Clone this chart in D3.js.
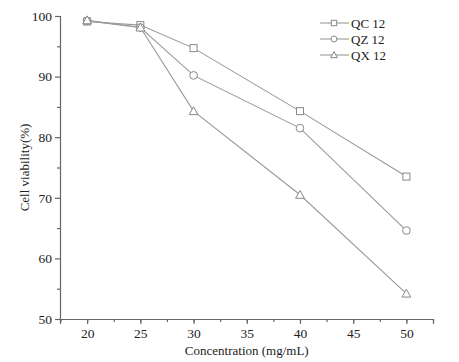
<!DOCTYPE html>
<html>
<head>
<meta charset="utf-8">
<script src="https://cdn.jsdelivr.net/npm/d3@7"></script>
<style>
  body { margin: 0; background: #fff; }
  svg text { font-family: "Liberation Serif", "DejaVu Serif", serif; fill: #222; }
</style>
</head>
<body>
<svg id="chart"></svg>
<script>
// concentrations (mg/mL) and viability (%) for each sample
const concentrations = [20, 25, 30, 40, 50];
const qc12 = [99.1, 98.5, 94.7, 84.3, 73.5];
const qz12 = [99.2, 98.1, 90.2, 81.5, 64.6];
const qx12 = [99.3, 98.1, 84.3, 70.5, 54.2];
const seriesNames = ["QC 12", "QZ 12", "QX 12"];
const markerTypes = ["square", "circle", "triangle"];
const xTicks = [20, 25, 30, 35, 40, 45, 50];
const yTicks = [50, 60, 70, 80, 90, 100];

const width = 459, height = 362;
const margin = {top: 16, right: 26, bottom: 43, left: 60};
const innerW = width - margin.left - margin.right;
const innerH = height - margin.top - margin.bottom;

const svg = d3.select('#chart')
    .attr('width', width)
    .attr('height', height);

const chart = svg.append('g')
    .attr('transform', `translate(${margin.left},${margin.top})`);

const x = d3.scaleLinear().domain([17.45, 52.5]).range([0, innerW]);
const y = d3.scaleLinear().domain([50, 100]).range([innerH, 0]);

const axisColor = '#666';
const lineColor = '#999';

// minor ticks
chart.append('g')
    .attr('transform', `translate(0,${innerH})`)
    .call(d3.axisBottom(x).tickValues(d3.range(17.5, 52.6, 2.5)).tickSize(3).tickFormat(''))
    .call(g => g.select('.domain').remove());
chart.append('g')
    .call(d3.axisLeft(y).tickValues(d3.range(55, 100, 10)).tickSize(3).tickFormat(''))
    .call(g => g.select('.domain').remove());

// major axes
chart.append('g')
    .attr('transform', `translate(0,${innerH})`)
    .call(d3.axisBottom(x).tickValues(xTicks).tickSize(5).tickPadding(4));
chart.append('g')
    .call(d3.axisLeft(y).tickValues(yTicks).tickSize(5).tickPadding(3));

chart.selectAll('.domain, .tick line').attr('stroke', axisColor).attr('stroke-width', 1.2);
chart.selectAll('.tick text')
    .attr('font-family', '"Liberation Serif", serif')
    .attr('font-size', 13.5)
    .attr('fill', '#222');

// axis titles
svg.append('text')
    .attr('x', margin.left + x(35))
    .attr('y', 355)
    .attr('text-anchor', 'middle')
    .attr('font-size', 13)
    .text('Concentration (mg/mL)');
svg.append('text')
    .attr('transform', `translate(29,${margin.top + y(75)}) rotate(-90)`)
    .attr('text-anchor', 'middle')
    .attr('font-size', 13)
    .text('Cell viability(%)');

const allSeries = [qc12, qz12, qx12];
const line = d3.line().x((d, i) => x(concentrations[i])).y(d => y(d));

function drawMarker(g, type, cx, cy, s) {
    if (type === 'square') {
        g.append('rect').attr('x', cx - s).attr('y', cy - s).attr('width', 2 * s).attr('height', 2 * s);
    } else if (type === 'circle') {
        g.append('circle').attr('cx', cx).attr('cy', cy).attr('r', s * 1.1);
    } else {
        g.append('path').attr('d', `M${cx},${cy - s * 1.25}L${cx + s * 1.25},${cy + s}L${cx - s * 1.25},${cy + s}Z`);
    }
}

allSeries.forEach((vals, s) => {
    chart.append('path')
        .datum(vals)
        .attr('d', line)
        .attr('fill', 'none')
        .attr('stroke', lineColor)
        .attr('stroke-width', 1.1);
    const mg = chart.append('g').attr('fill', '#fff').attr('stroke', '#888').attr('stroke-width', 1);
    vals.forEach((v, i) => drawMarker(mg, markerTypes[s], x(concentrations[i]), y(v), 3.5));
});

// legend
const legend = svg.append('g').attr('transform', 'translate(320,23)');
seriesNames.forEach((name, i) => {
    const row = legend.append('g').attr('transform', `translate(0,${i * 16})`);
    row.append('line').attr('x1', 0).attr('x2', 29).attr('stroke', lineColor).attr('stroke-width', 1.1);
    const mg = row.append('g').attr('fill', '#fff').attr('stroke', '#888').attr('stroke-width', 1);
    drawMarker(mg, markerTypes[i], 14, 0, 2.7);
    row.append('text').attr('x', 31).attr('y', 0).attr('dy', '0.35em')
        .attr('font-size', 13).text(name);
});
</script>
</body>
</html>
